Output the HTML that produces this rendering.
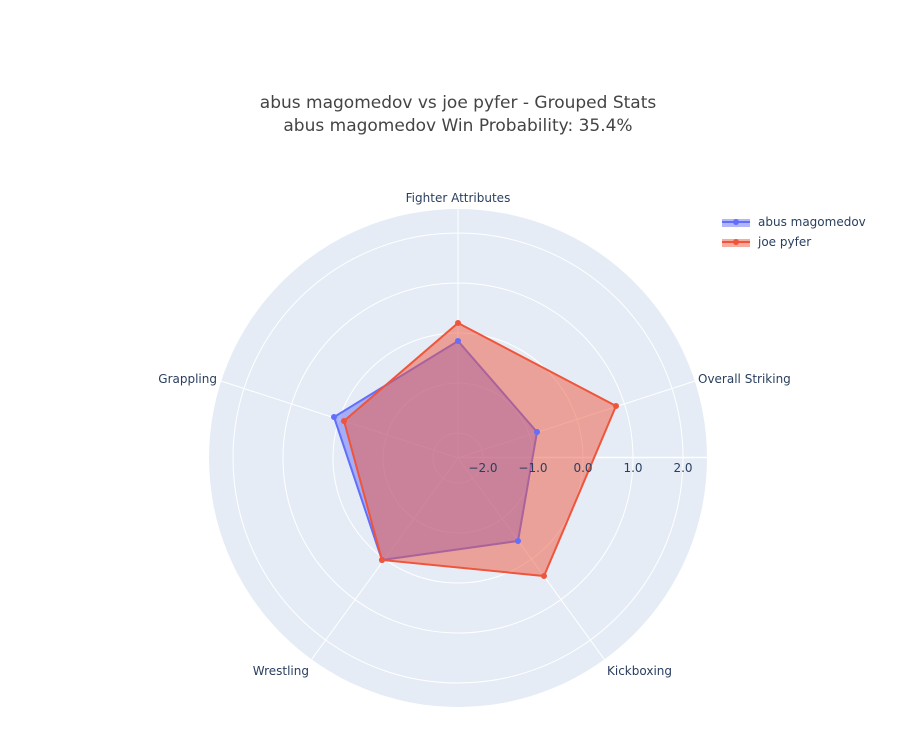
<!DOCTYPE html>
<html><head><style>body{margin:0;background:#fff}</style></head><body>
<svg width="924" height="746" xmlns="http://www.w3.org/2000/svg" font-family="'DejaVu Sans', sans-serif">
<rect width="924" height="746" fill="#fff"/>
<text x="458" y="108" text-anchor="middle" font-size="17" fill="#444">abus magomedov vs joe pyfer - Grouped Stats</text>
<text x="458" y="131" text-anchor="middle" font-size="17" fill="#444">abus magomedov Win Probability: 35.4%</text>
<circle cx="458" cy="458" r="249" fill="#e5ecf6"/>
<g fill="none" stroke="#fff" stroke-width="1">
<circle cx="458" cy="458" r="25"/><circle cx="458" cy="458" r="75"/><circle cx="458" cy="458" r="125"/><circle cx="458" cy="458" r="175"/><circle cx="458" cy="458" r="225"/>
<line x1="458" y1="458" x2="458" y2="209"/>
<line x1="458" y1="458" x2="694.8" y2="381.1"/>
<line x1="458" y1="458" x2="604.4" y2="659.4"/>
<line x1="458" y1="458" x2="311.6" y2="659.4"/>
<line x1="458" y1="458" x2="221.2" y2="381.1"/>
</g>
<line x1="458" y1="457.5" x2="707" y2="457.5" stroke="#fff" stroke-width="1.5"/>
<polygon points="458,341 537,432 518,541 382,560 334,417" fill="rgba(99,110,250,0.5)" stroke="#636efa" stroke-width="2"/>
<polygon points="458,323 616,406 544,576 382,560 344,421" fill="rgba(239,85,59,0.5)" stroke="#EF553B" stroke-width="2"/>
<g fill="#636efa"><circle cx="458" cy="341" r="3"/><circle cx="537" cy="432" r="3"/><circle cx="518" cy="541" r="3"/><circle cx="382" cy="560" r="3"/><circle cx="334" cy="417" r="3"/></g>
<g fill="#EF553B"><circle cx="458" cy="323" r="3"/><circle cx="616" cy="406" r="3"/><circle cx="544" cy="576" r="3"/><circle cx="382" cy="560" r="3"/><circle cx="344" cy="421" r="3"/></g>
<g font-size="12" fill="#2a3f5f" text-anchor="middle">
<text x="483" y="472">−2.0</text><text x="533" y="472">−1.0</text><text x="583" y="472">0.0</text><text x="633" y="472">1.0</text><text x="683" y="472">2.0</text>
<text x="458" y="202">Fighter Attributes</text>
<text x="698" y="383" text-anchor="start">Overall Striking</text>
<text x="607" y="675" text-anchor="start">Kickboxing</text>
<text x="309" y="675" text-anchor="end">Wrestling</text>
<text x="217" y="383" text-anchor="end">Grappling</text>
</g>
<rect x="722" y="219" width="28" height="8" fill="rgba(99,110,250,0.5)"/>
<line x1="722" y1="222" x2="750" y2="222" stroke="#636efa" stroke-width="2"/><circle cx="736" cy="222" r="3" fill="#636efa"/>
<rect x="722" y="239" width="28" height="8" fill="rgba(239,85,59,0.5)"/>
<line x1="722" y1="242" x2="750" y2="242" stroke="#EF553B" stroke-width="2"/><circle cx="736" cy="242" r="3" fill="#EF553B"/>
<text x="758" y="226" font-size="12" fill="#2a3f5f">abus magomedov</text>
<text x="758" y="246" font-size="12" fill="#2a3f5f">joe pyfer</text>
</svg>
</body></html>
